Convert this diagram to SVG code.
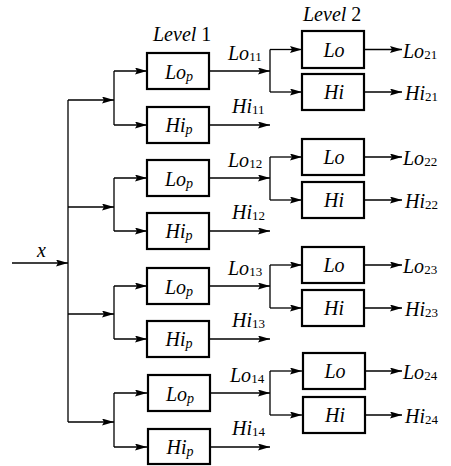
<svg xmlns="http://www.w3.org/2000/svg" width="451" height="466" viewBox="0 0 451 466" font-family="'Liberation Serif', 'Times New Roman', 'DejaVu Serif', serif">
<style>
.box{fill:#fff;stroke:#000;stroke-width:2.2}
.ln{fill:none;stroke:#000;stroke-width:1.3}
.ar{fill:none;stroke:#000;stroke-width:1.3;marker-end:url(#ah)}
.t{font-family:'Liberation Serif','Times New Roman','DejaVu Serif',serif;font-size:20px;font-style:italic;fill:#000}
.mid{text-anchor:middle}
.sub{font-size:13px;font-style:normal}
.sp{font-size:14px}
.up{font-style:normal}
</style>
<defs>
<marker id="ah" markerUnits="userSpaceOnUse" markerWidth="13" markerHeight="8" refX="12" refY="3.5" orient="auto">
<path d="M0,0 L12,3.5 L0,7 L2,3.5 z" fill="#000"/>
</marker>
</defs>
<rect width="451" height="466" fill="#fff"/>
<g id="titles">
<text class="t" x="153" y="41">Level <tspan class="up">1</tspan></text>
<text class="t" x="303" y="21">Level <tspan class="up">2</tspan></text>
</g>
<g id="connectors">
<line class="ar" x1="12" y1="263" x2="68" y2="263"/>
<line class="ln" x1="68" y1="100" x2="68" y2="422"/>
<line class="ar" x1="68" y1="100" x2="114" y2="100"/>
<line class="ln" x1="114" y1="71" x2="114" y2="125"/>
<line class="ar" x1="114" y1="71" x2="147" y2="71"/>
<line class="ar" x1="114" y1="125" x2="147" y2="125"/>
<line class="ar" x1="209" y1="71" x2="270" y2="71"/>
<line class="ar" x1="209" y1="125" x2="270" y2="125"/>
<line class="ln" x1="270" y1="49.5" x2="270" y2="92"/>
<line class="ar" x1="270" y1="49.5" x2="302" y2="49.5"/>
<line class="ar" x1="270" y1="92" x2="302" y2="92"/>
<line class="ar" x1="364" y1="49.5" x2="402" y2="49.5"/>
<line class="ar" x1="364" y1="92" x2="402" y2="92"/>
<line class="ar" x1="68" y1="207" x2="114" y2="207"/>
<line class="ln" x1="114" y1="178" x2="114" y2="231"/>
<line class="ar" x1="114" y1="178" x2="147" y2="178"/>
<line class="ar" x1="114" y1="231" x2="147" y2="231"/>
<line class="ar" x1="209" y1="178" x2="270" y2="178"/>
<line class="ar" x1="209" y1="231" x2="270" y2="231"/>
<line class="ln" x1="270" y1="157" x2="270" y2="200"/>
<line class="ar" x1="270" y1="157" x2="302" y2="157"/>
<line class="ar" x1="270" y1="200" x2="302" y2="200"/>
<line class="ar" x1="364" y1="157" x2="402" y2="157"/>
<line class="ar" x1="364" y1="200" x2="402" y2="200"/>
<line class="ar" x1="68" y1="314" x2="114" y2="314"/>
<line class="ln" x1="114" y1="286" x2="114" y2="339"/>
<line class="ar" x1="114" y1="286" x2="147" y2="286"/>
<line class="ar" x1="114" y1="339" x2="147" y2="339"/>
<line class="ar" x1="209" y1="286" x2="270" y2="286"/>
<line class="ar" x1="209" y1="339" x2="270" y2="339"/>
<line class="ln" x1="270" y1="265" x2="270" y2="308"/>
<line class="ar" x1="270" y1="265" x2="302" y2="265"/>
<line class="ar" x1="270" y1="308" x2="302" y2="308"/>
<line class="ar" x1="364" y1="265" x2="402" y2="265"/>
<line class="ar" x1="364" y1="308" x2="402" y2="308"/>
<line class="ar" x1="68" y1="422" x2="114" y2="422"/>
<line class="ln" x1="114" y1="393" x2="114" y2="447"/>
<line class="ar" x1="114" y1="393" x2="147" y2="393"/>
<line class="ar" x1="114" y1="447" x2="147" y2="447"/>
<line class="ar" x1="209" y1="393" x2="270" y2="393"/>
<line class="ar" x1="209" y1="447" x2="270" y2="447"/>
<line class="ln" x1="270" y1="371" x2="270" y2="415"/>
<line class="ar" x1="270" y1="371" x2="302" y2="371"/>
<line class="ar" x1="270" y1="415" x2="302" y2="415"/>
<line class="ar" x1="364" y1="371" x2="402" y2="371"/>
<line class="ar" x1="364" y1="415" x2="402" y2="415"/>
</g>
<g id="edge-labels">
<text class="t" x="37" y="257">x</text>
<text class="t" x="228" y="60">Lo<tspan class="sub" dy="1">11</tspan></text>
<text class="t" x="232" y="113">Hi<tspan class="sub" dy="1">11</tspan></text>
<text class="t" x="228" y="167">Lo<tspan class="sub" dy="1">12</tspan></text>
<text class="t" x="232" y="219">Hi<tspan class="sub" dy="1">12</tspan></text>
<text class="t" x="228" y="275">Lo<tspan class="sub" dy="1">13</tspan></text>
<text class="t" x="232" y="327">Hi<tspan class="sub" dy="1">13</tspan></text>
<text class="t" x="230" y="382">Lo<tspan class="sub" dy="1">14</tspan></text>
<text class="t" x="232" y="435">Hi<tspan class="sub" dy="1">14</tspan></text>
<text class="t" x="403" y="58">Lo<tspan class="sub" dy="1">21</tspan></text>
<text class="t" x="405" y="100">Hi<tspan class="sub" dy="1">21</tspan></text>
<text class="t" x="403" y="165">Lo<tspan class="sub" dy="1">22</tspan></text>
<text class="t" x="405" y="208">Hi<tspan class="sub" dy="1">22</tspan></text>
<text class="t" x="403" y="273">Lo<tspan class="sub" dy="1">23</tspan></text>
<text class="t" x="405" y="316">Hi<tspan class="sub" dy="1">23</tspan></text>
<text class="t" x="403" y="379">Lo<tspan class="sub" dy="1">24</tspan></text>
<text class="t" x="405" y="423">Hi<tspan class="sub" dy="1">24</tspan></text>
</g>
<g id="lop1"><rect class="box" x="147" y="53" width="62" height="36"/><text class="t mid" x="179" y="79">Lo<tspan class="sp" dy="2">p</tspan></text></g>
<g id="hip1"><rect class="box" x="147" y="107" width="62" height="36"/><text class="t mid" x="179" y="132">Hi<tspan class="sp" dy="2">p</tspan></text></g>
<g id="lop2"><rect class="box" x="147" y="160" width="62" height="36"/><text class="t mid" x="179" y="186">Lo<tspan class="sp" dy="2">p</tspan></text></g>
<g id="hip2"><rect class="box" x="147" y="213" width="62" height="36"/><text class="t mid" x="179" y="238">Hi<tspan class="sp" dy="2">p</tspan></text></g>
<g id="lop3"><rect class="box" x="147" y="268" width="62" height="36"/><text class="t mid" x="179" y="294">Lo<tspan class="sp" dy="2">p</tspan></text></g>
<g id="hip3"><rect class="box" x="147" y="321" width="62" height="36"/><text class="t mid" x="179" y="346">Hi<tspan class="sp" dy="2">p</tspan></text></g>
<g id="lop4"><rect class="box" x="148" y="375" width="62" height="36"/><text class="t mid" x="180" y="401">Lo<tspan class="sp" dy="2">p</tspan></text></g>
<g id="hip4"><rect class="box" x="148" y="429" width="62" height="35"/><text class="t mid" x="180" y="454">Hi<tspan class="sp" dy="2">p</tspan></text></g>
<g id="lo21"><rect class="box" x="302" y="31" width="62" height="37"/><text class="t mid" x="334" y="57">Lo</text></g>
<g id="hi21"><rect class="box" x="302" y="74" width="62" height="36"/><text class="t mid" x="334" y="99">Hi</text></g>
<g id="lo22"><rect class="box" x="302" y="139" width="62" height="36"/><text class="t mid" x="334" y="164">Lo</text></g>
<g id="hi22"><rect class="box" x="302" y="182" width="62" height="36"/><text class="t mid" x="334" y="207">Hi</text></g>
<g id="lo23"><rect class="box" x="302" y="247" width="62" height="36"/><text class="t mid" x="334" y="272">Lo</text></g>
<g id="hi23"><rect class="box" x="302" y="290" width="62" height="36"/><text class="t mid" x="334" y="315">Hi</text></g>
<g id="lo24"><rect class="box" x="303" y="353" width="62" height="36"/><text class="t mid" x="335" y="378">Lo</text></g>
<g id="hi24"><rect class="box" x="303" y="397" width="62" height="36"/><text class="t mid" x="335" y="422">Hi</text></g>
</svg>
